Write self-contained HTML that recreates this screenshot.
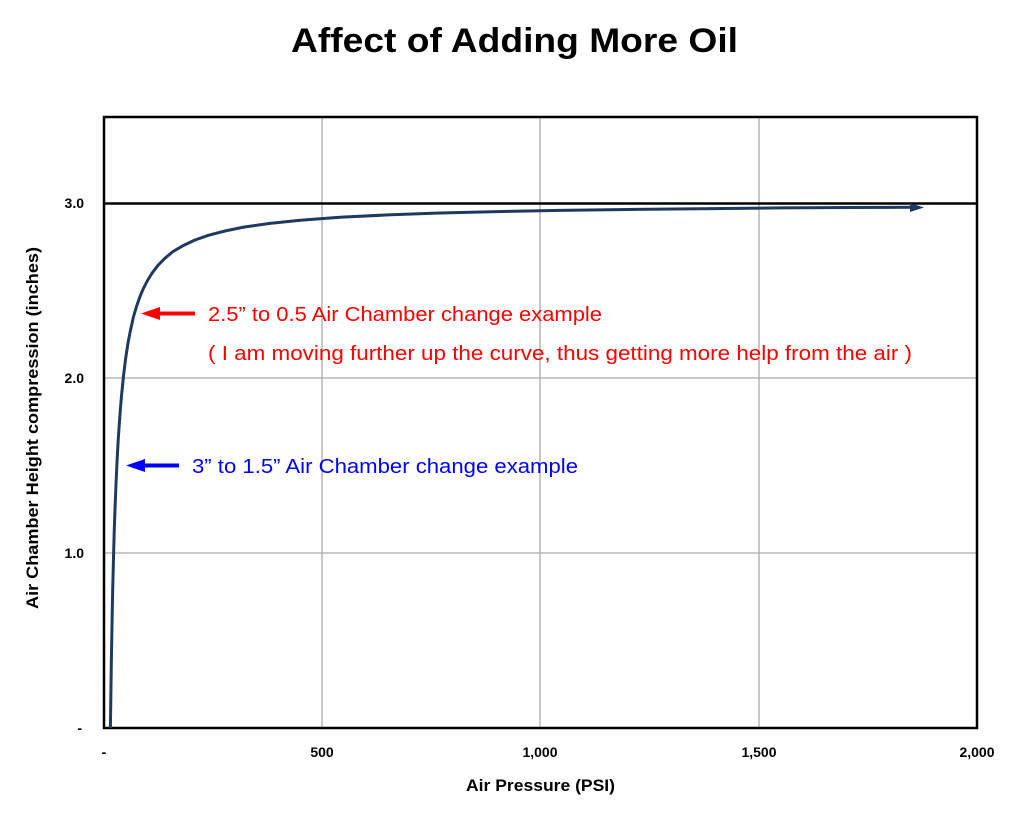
<!DOCTYPE html>
<html><head><meta charset="utf-8"><style>
html,body{margin:0;padding:0;background:#fff;}
svg{display:block;font-family:"Liberation Sans","DejaVu Sans",sans-serif;}
</style></head><body>
<svg width="1024" height="813" viewBox="0 0 1024 813" xmlns="http://www.w3.org/2000/svg">
<text x="291" y="52" textLength="447" lengthAdjust="spacingAndGlyphs" font-size="34" font-weight="bold" fill="#000">Affect of Adding More Oil</text>
<g stroke="#aaa" stroke-width="1.3">
<line x1="322" y1="117" x2="322" y2="728"/>
<line x1="540" y1="117" x2="540" y2="728"/>
<line x1="759" y1="117" x2="759" y2="728"/>
<line x1="104" y1="553" x2="977" y2="553"/>
<line x1="104" y1="378" x2="977" y2="378"/>
</g>
<line x1="104" y1="203.5" x2="977" y2="203.5" stroke="#000" stroke-width="2.5"/>
<rect x="104" y="117" width="873" height="611" fill="none" stroke="#000" stroke-width="2.5"/>
<polyline fill="none" stroke="#1f3a5f" stroke-width="3" stroke-linejoin="round" points="110.4,728 110.7,706 111.0,685.4 111.4,658 111.9,631.7 112.3,609 112.7,588.9 113.2,570 113.6,553.9 114.2,532 114.9,511.7 116,484 117.1,460.3 118.2,440 119.3,423.5 120.4,409 121.5,395.9 123.6,375 125.8,357.3 128,343 130.2,331.6 133.4,317 136.7,305.9 140,296.5 143.3,288.7 147.5,280.5 152.0,273.2 158,265.3 165.1,258.1 173,251.5 182.6,245.9 195,240 208.8,235.2 225,231 243.7,227.1 270,223.4 300.4,220.2 340,217.3 387.7,214.9 440,213 496.9,211.6 560,210.4 627.8,209.5 700,208.7 780.6,207.9 850,207.5 912,207.3"/>
<polygon points="910,203 924,207.5 910,212" fill="#1f3a5f"/>
<g font-size="14" font-weight="bold" fill="#000" text-anchor="end">
<text x="84" y="208">3.0</text>
<text x="84" y="383">2.0</text>
<text x="84" y="558">1.0</text>
<text x="82" y="733">-</text>
</g>
<g font-size="14" font-weight="bold" fill="#000" text-anchor="middle">
<text x="104" y="757">-</text>
<text x="322" y="757">500</text>
<text x="540" y="757">1,000</text>
<text x="759" y="757">1,500</text>
<text x="977" y="757">2,000</text>
</g>
<text x="466" y="791" textLength="149" lengthAdjust="spacingAndGlyphs" font-size="17" font-weight="bold">Air Pressure (PSI)</text>
<text transform="translate(38,609) rotate(-90)" textLength="362" lengthAdjust="spacingAndGlyphs" font-size="17" font-weight="bold">Air Chamber Height compression (inches)</text>
<line x1="157" y1="313.5" x2="195" y2="313.5" stroke="#f00" stroke-width="4"/>
<polygon points="141,313.5 160,307 160,320" fill="#f00"/>
<text x="208" y="321" textLength="394" lengthAdjust="spacingAndGlyphs" font-size="20" fill="#f00">2.5” to 0.5 Air Chamber change example</text>
<text x="208" y="360" textLength="704" lengthAdjust="spacingAndGlyphs" font-size="20" fill="#f00">( I am moving further up the curve, thus getting more help from the air )</text>
<line x1="142" y1="465.5" x2="179" y2="465.5" stroke="#00f" stroke-width="4"/>
<polygon points="126,465.5 145,459 145,472" fill="#00f"/>
<text x="192" y="473" textLength="386" lengthAdjust="spacingAndGlyphs" font-size="20" fill="#00f">3” to 1.5” Air Chamber change example</text>
</svg>
</body></html>
